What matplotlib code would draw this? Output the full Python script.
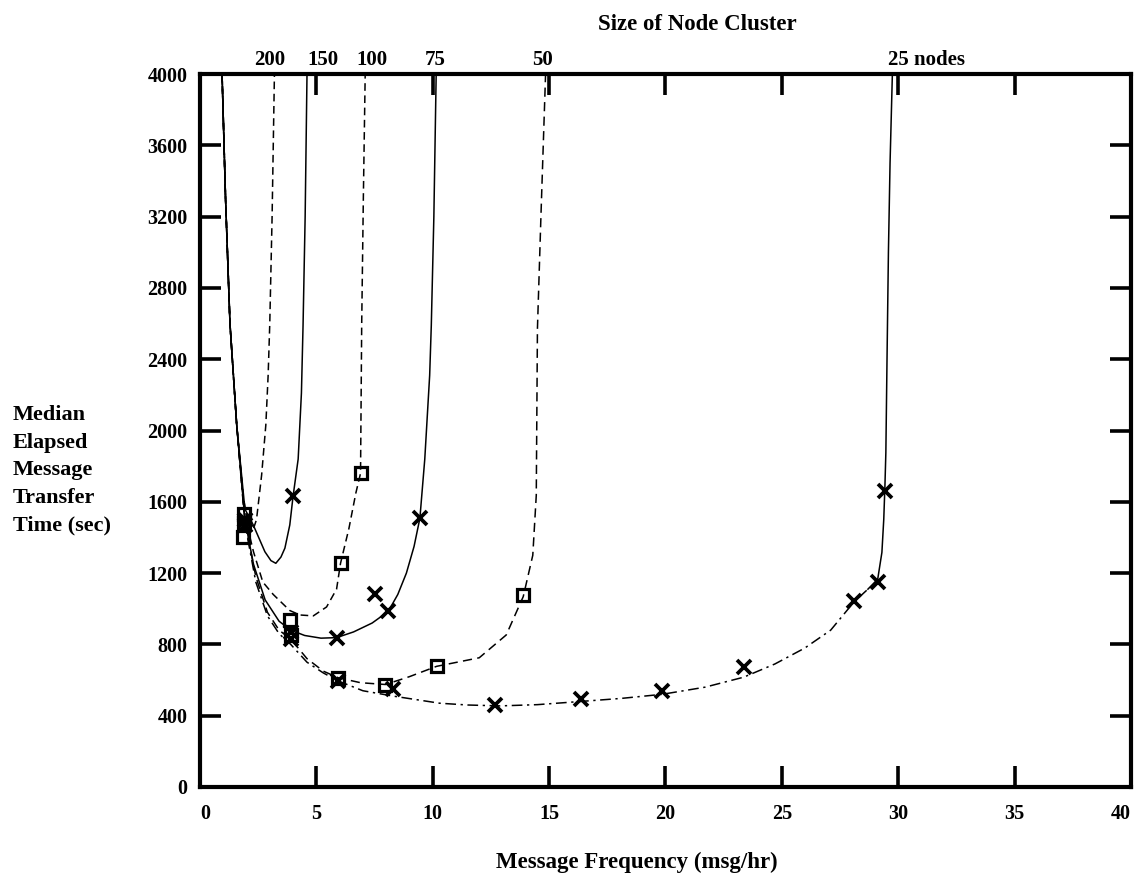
import numpy as np
import matplotlib.pyplot as plt

plt.rcParams['font.family'] = ['Liberation Serif', 'DejaVu Serif']
plt.rcParams['font.weight'] = 'bold'

# fitted curves: message frequency (msg/hr) -> median elapsed transfer time (sec)
x200 = [0.95, 1.1, 1.29, 1.58, 1.85, 2.05, 2.25, 2.43, 2.65, 2.83, 2.93, 3.0, 3.1, 3.2]
y200 = [4000, 3300, 2600, 2030, 1640, 1480, 1430, 1500, 1750, 2030, 2310, 2600, 3200, 4000]

x150 = [0.95, 1.1, 1.29, 1.58, 1.93, 2.29, 2.79, 3.05, 3.26, 3.48, 3.65, 3.86, 4.0, 4.22,
        4.36, 4.43, 4.52, 4.6]
y150 = [4000, 3300, 2600, 2030, 1560, 1470, 1320, 1270, 1255, 1290, 1340, 1470, 1630, 1840,
        2210, 2590, 3200, 4000]

x100 = [0.95, 1.1, 1.29, 1.58, 1.93, 2.3, 2.7, 3.15, 3.86, 4.3, 4.87, 5.44, 5.87, 6.04,
        6.4, 6.7, 6.9, 6.92, 6.95, 7.02, 7.1]
y100 = [4000, 3300, 2600, 2030, 1520, 1320, 1150, 1080, 990, 965, 960, 1010, 1110, 1255,
        1450, 1650, 1760, 2100, 2600, 3300, 4000]

x75 = [0.95, 1.1, 1.29, 1.58, 1.93, 2.3, 2.8, 3.4, 3.9, 4.5, 5.2, 5.87, 6.6, 7.4, 8.09,
       8.5, 8.87, 9.2, 9.45, 9.66, 9.87, 9.94, 10.05, 10.15]
y75 = [4000, 3300, 2600, 2030, 1500, 1250, 1050, 930, 880, 850, 835, 838, 870, 920, 985,
       1080, 1200, 1350, 1508, 1840, 2310, 2590, 3200, 4000]

x50 = [0.95, 1.1, 1.29, 1.58, 1.93, 2.4, 2.9, 3.4, 3.9, 4.6, 5.3, 5.94, 6.9, 7.97, 9.0,
       10.17, 12.0, 13.16, 13.89, 14.3, 14.45, 14.5, 14.65, 14.85]
y50 = [4000, 3300, 2600, 2030, 1490, 1180, 980, 880, 830, 720, 650, 613, 585, 575, 619,
       677, 725, 853, 1068, 1300, 1636, 2570, 3200, 4000]

x25 = [0.95, 1.1, 1.29, 1.58, 1.93, 2.4, 2.9, 3.4, 3.9, 4.6, 5.3, 5.94, 7.0, 8.3, 9.3,
       10.3, 11.5, 12.9, 14.5, 16.37, 18.1, 19.86, 21.7, 23.36, 24.7, 25.98, 27.1, 28.1,
       28.7, 29.12, 29.3, 29.38, 29.43, 29.47, 29.52, 29.58, 29.65, 29.75]
y25 = [4000, 3300, 2600, 2030, 1480, 1150, 960, 860, 800, 700, 640, 595, 540, 510, 490,
       470, 460, 455, 462, 480, 497, 520, 560, 616, 690, 779, 880, 1038,
       1110, 1166, 1316, 1502, 1689, 1876, 2400, 3000, 3500, 4000]

# measured points (x marks and squares)
mx150 = [1.95, 4.0]
my150 = [1500, 1630]
mx200 = [1.9]
my200 = [1530]
mx100 = [1.85, 3.87, 6.04, 6.9]
my100 = [1400, 935, 1255, 1760]
mx75 = [1.95, 3.9, 5.87, 7.52, 8.09, 9.45]
my75 = [1470, 870, 838, 1080, 985, 1508]
mx50 = [1.9, 3.9, 5.94, 7.97, 10.17, 13.89]
my50 = [1480, 850, 613, 575, 677, 1075]
mx25 = [1.95, 3.9, 5.94, 8.3, 12.67, 16.37, 19.86, 23.36, 28.1, 29.12, 29.43]
my25 = [1500, 830, 595, 547, 460, 496, 536, 675, 1042, 1152, 1662]

# cluster sizes written over the asymptotes
node_pos = [3.0, 5.3, 7.4, 10.1, 14.7, 31.2]
node_labels = ['200', '150', '100', '75', '50', '25 nodes']

xticks = list(range(0, 41, 5))
yticks = list(range(0, 4001, 400))

fig = plt.figure(figsize=(11.38, 8.81), dpi=100)
ax = fig.add_axes([0.1757, 0.1067, 0.8181, 0.8093])

lw = 1.1
ax.plot(x200, y200, color='black', lw=lw, dashes=(5, 3))
ax.plot(x150, y150, color='black', lw=lw)
ax.plot(x100, y100, color='black', lw=lw, dashes=(5, 3))
ax.plot(x75, y75, color='black', lw=lw)
ax.plot(x50, y50, color='black', lw=lw, dashes=(6, 3.5))

# 25-node curve: dash-dot along the bottom, solid up the asymptote
x25a = np.array(x25)
y25a = np.array(y25)
low = x25a <= 28.7
k = np.argmax(~low) - 1
ax.plot(x25a[low], y25a[low], color='black', lw=lw, dashes=(7, 3, 1.5, 3))
ax.plot(x25a[k:], y25a[k:], color='black', lw=lw)

xm = dict(marker='x', ls='none', color='black', ms=10.5, mew=2.7)
sq = dict(marker='s', ls='none', mfc='none', mec='black', ms=8.5, mew=2.3)
ax.plot(mx150, my150, **xm)
ax.plot(mx75, my75, **xm)
ax.plot(mx25, my25, **xm)
ax.plot(mx200, my200, **sq)
ax.plot(mx100, my100, **sq)
ax.plot(mx50, my50, **sq)

ax.set_xlim(0, 40)
ax.set_ylim(0, 4000)
ax.set_xticks(xticks)
ax.set_yticks(yticks)
ax.tick_params(direction='in', length=15, width=2.6, labelsize=14.5,
               top=True, right=True)
ax.tick_params(axis='x', pad=12)
ax.tick_params(axis='y', pad=9)
xlabels = ax.get_xticklabels()
xlabels[0].set_ha('left')
xlabels[-1].set_ha('right')
for sp in ax.spines.values():
    sp.set_linewidth(3)

top = ax.secondary_xaxis('top')
top.set_xticks(node_pos, node_labels)
top.tick_params(length=0, labelsize=15, pad=3)
top.spines['top'].set_visible(False)

fig.text(0.613, 0.972, 'Size of Node Cluster', ha='center', va='center', fontsize=16.5)
fig.text(0.56, 0.021, 'Message Frequency (msg/hr)', ha='center', va='center',
         fontsize=16.5)
fig.text(0.011, 0.4665, 'Median\nElapsed\nMessage\nTransfer\nTime (sec)',
         ha='left', va='center', fontsize=16, linespacing=1.5)

fig.savefig('out.png', dpi=100)
